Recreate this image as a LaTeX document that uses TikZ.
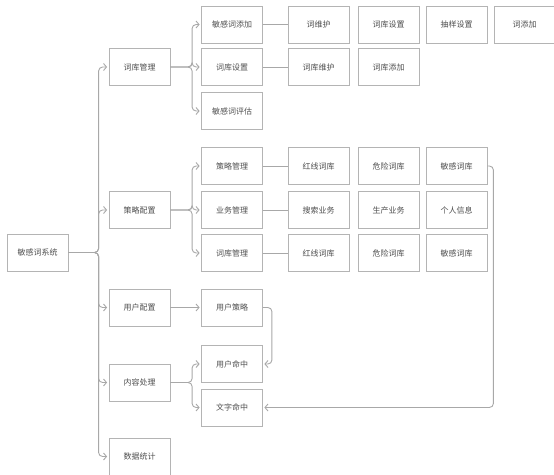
\documentclass[tikz,border=0pt]{standalone}
\usepackage{fontspec}
\setmainfont{Noto Sans CJK SC}
\usetikzlibrary{arrows.meta}
\definecolor{boxgray}{HTML}{B4B4B4}
\definecolor{linegray}{HTML}{A8A8A8}
\definecolor{txtgray}{HTML}{505050}
\begin{document}
\begin{tikzpicture}[x=1pt,y=-1pt,
  box/.style={draw=boxgray, line width=0.8pt, minimum width=61pt, minimum height=37pt, inner sep=0pt, font=\fontsize{8}{9.5}\selectfont, text=txtgray, fill=white},
  conn/.style={draw=linegray, line width=0.9pt, rounded corners=4pt},
  arr/.style={conn, -{Straight Barb[length=3pt,width=7pt]}, shorten >=1.5pt}]
\useasboundingbox[fill=white] (0,0) rectangle (554,474);
% root
\node[box] (root) at (37.5,252.5) {敏感词系统};
% level 2
\node[box] (ck) at (139.5,67) {词库管理};
\node[box] (cl) at (139.5,210) {策略配置};
\node[box] (yh) at (139.5,307.5) {用户配置};
\node[box] (nr) at (139.5,382.5) {内容处理};
\node[box] (sj) at (139.5,456.5) {数据统计};
% level 3
\node[box] (mgtj) at (232,24.5) {敏感词添加};
\node[box] (cksz) at (232,67) {词库设置};
\node[box] (mgpg) at (232,111) {敏感词评估};
\node[box] (clgl) at (232,166) {策略管理};
\node[box] (ywgl) at (232,210) {业务管理};
\node[box] (ckgl) at (232,253) {词库管理};
\node[box] (yhcl) at (232,307.5) {用户策略};
\node[box] (yhmz) at (232,364) {用户命中};
\node[box] (wzmz) at (232,407.5) {文字命中};
% level 4
\node[box] (a1) at (318.5,24.5) {词维护};
\node[box] (a2) at (388.5,24.5) {词库设置};
\node[box] (a3) at (456.5,24.5) {抽样设置};
\node[box] (a4) at (524.5,24.5) {词添加};
\node[box] (b1) at (318.5,67) {词库维护};
\node[box] (b2) at (388.5,67) {词库添加};
\node[box] (c1) at (318.5,166) {红线词库};
\node[box] (c2) at (388.5,166) {危险词库};
\node[box] (c3) at (456.5,166) {敏感词库};
\node[box] (d1) at (318.5,210) {搜索业务};
\node[box] (d2) at (388.5,210) {生产业务};
\node[box] (d3) at (456.5,210) {个人信息};
\node[box] (e1) at (318.5,253) {红线词库};
\node[box] (e2) at (388.5,253) {危险词库};
\node[box] (e3) at (456.5,253) {敏感词库};
% root to level 2
\foreach \c in {ck,cl,yh,nr,sj}
  \draw[arr] (root.east) -| ([xshift=-10pt]\c.west) -- (\c.west);
% level 2 to level 3
\foreach \c in {mgtj,cksz,mgpg}
  \draw[arr] (ck.east) -| ([xshift=-9pt]\c.west) -- (\c.west);
\foreach \c in {clgl,ywgl,ckgl}
  \draw[arr] (cl.east) -| ([xshift=-9pt]\c.west) -- (\c.west);
\draw[arr] (yh.east) -- (yhcl.west);
\foreach \c in {yhmz,wzmz}
  \draw[arr] (nr.east) -| ([xshift=-9pt]\c.west) -- (\c.west);
% level 3 to level 4
\draw[conn] (mgtj.east) -- (a1.west);
\draw[conn] (cksz.east) -- (b1.west);
\draw[conn] (clgl.east) -- (c1.west);
\draw[conn] (ywgl.east) -- (d1.west);
\draw[conn] (ckgl.east) -- (e1.west);
% feedback connectors
\draw[arr] (yhcl.east) -- ([xshift=9pt]yhcl.east) |- (yhmz.east);
\draw[arr] (c3.east) -- ([xshift=6pt]c3.east) |- (wzmz.east);
\end{tikzpicture}
\end{document}
